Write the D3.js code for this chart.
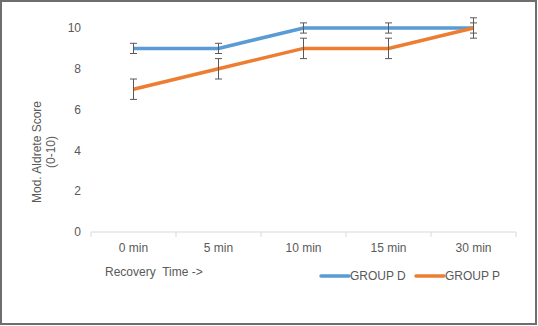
<!DOCTYPE html>
<html>
<head>
<meta charset="utf-8">
<script src="https://cdn.jsdelivr.net/npm/d3@7"></script>
<style>
  body { margin: 0; background: #fff; }
  text { font-family: "Liberation Sans", Arial, sans-serif; fill: #595959; }
</style>
</head>
<body>
<div id="chart"></div>
<script>
// data
const categories = ["0 min", "5 min", "10 min", "15 min", "30 min"];
const groupD = [9, 9, 10, 10, 10];
const groupDErr = [0.25, 0.25, 0.25, 0.25, 0.25];
const groupP = [7, 8, 9, 9, 10];
const groupPErr = [0.5, 0.5, 0.5, 0.5, 0.5];
const yTicks = [0, 2, 4, 6, 8, 10];

const series = [
    {name: "GROUP D", values: groupD, err: groupDErr, color: "#5B9BD5"},
    {name: "GROUP P", values: groupP, err: groupPErr, color: "#ED7D31"}
];

const W = 538, H = 326;
const svg = d3.select("#chart").append("svg")
    .attr("width", W)
    .attr("height", H);

// outer frame
svg.append("rect")
    .attr("x", 1).attr("y", 1)
    .attr("width", W - 3).attr("height", H - 3)
    .attr("fill", "#fff")
    .attr("stroke", "#6e6e6e")
    .attr("stroke-width", 2);

// scales
const x = d3.scaleBand().domain(categories).range([91, 516]);
const y = d3.scaleLinear().domain([0, 10]).range([232, 28]);
const cx = d => x(d) + x.bandwidth() / 2;

// y tick labels
svg.append("g").selectAll("text")
    .data(yTicks)
    .join("text")
    .attr("x", 81)
    .attr("y", d => y(d))
    .attr("dy", "0.35em")
    .attr("text-anchor", "end")
    .attr("font-size", 12)
    .text(d => d);

// x axis
const xAxis = svg.append("g")
    .attr("transform", "translate(0," + y(0) + ")");
xAxis.append("line")
    .attr("x1", 91).attr("x2", 516)
    .attr("stroke", "#d9d9d9");
xAxis.selectAll("line.tick")
    .data(categories.map(c => x(c)).concat([516]))
    .join("line")
    .attr("class", "tick")
    .attr("x1", d => d).attr("x2", d => d)
    .attr("y1", 0).attr("y2", 5)
    .attr("stroke", "#d9d9d9");
xAxis.selectAll("text")
    .data(categories)
    .join("text")
    .attr("x", d => cx(d))
    .attr("y", 16)
    .attr("dy", "0.35em")
    .attr("text-anchor", "middle")
    .attr("font-size", 12)
    .text(d => d);

// axis titles
svg.append("text")
    .attr("x", 105).attr("y", 272)
    .attr("dy", "0.35em")
    .attr("font-size", 12)
    .attr("xml:space", "preserve")
    .text("Recovery  Time ->");

const yTitle = svg.append("text")
    .attr("transform", "translate(41,152) rotate(-90)")
    .attr("text-anchor", "middle")
    .attr("font-size", 12);
yTitle.append("tspan").attr("x", 0).attr("dy", "0em").text("Mod. Aldrete Score");
yTitle.append("tspan").attr("x", 0).attr("dy", "1.2em").text("(0-10)");

// lines
const line = d3.line()
    .x((d, i) => cx(categories[i]))
    .y(d => y(d));

svg.append("g").selectAll("path")
    .data(series)
    .join("path")
    .attr("d", s => line(s.values))
    .attr("fill", "none")
    .attr("stroke", s => s.color)
    .attr("stroke-width", 3.5);

// error bars
series.forEach(s => {
    const g = svg.append("g").attr("stroke", "#595959").attr("stroke-width", 1);
    s.values.forEach((v, i) => {
        const px = cx(categories[i]);
        g.append("line")
            .attr("x1", px).attr("x2", px)
            .attr("y1", y(v - s.err[i])).attr("y2", y(v + s.err[i]));
        [v - s.err[i], v + s.err[i]].forEach(e => {
            g.append("line")
                .attr("x1", px - 3.5).attr("x2", px + 3.5)
                .attr("y1", y(e)).attr("y2", y(e));
        });
    });
});

// legend
const legendX = [321, 416];
const legend = svg.append("g").selectAll("g")
    .data(series)
    .join("g")
    .attr("transform", (d, i) => "translate(" + legendX[i] + ",276)");
legend.append("line")
    .attr("x1", 0).attr("x2", 28)
    .attr("stroke", d => d.color)
    .attr("stroke-width", 3.5)
    .attr("stroke-linecap", "round");
legend.append("text")
    .attr("x", 29)
    .attr("dy", "0.35em")
    .attr("font-size", 12)
    .text(d => d.name);
</script>
</body>
</html>
